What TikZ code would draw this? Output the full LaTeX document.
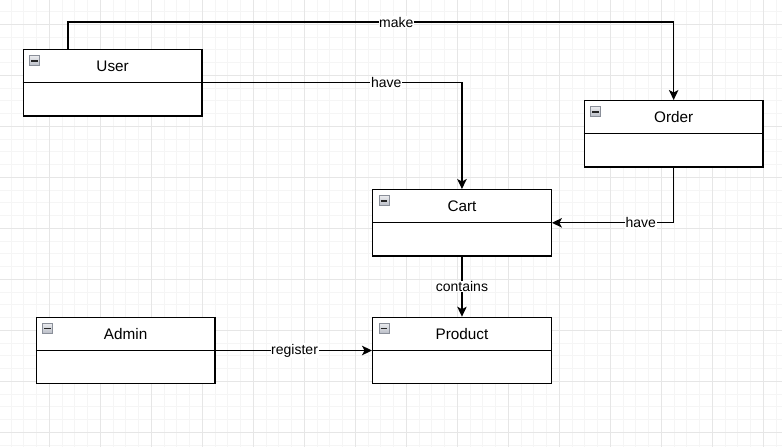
\documentclass[tikz,border=0pt]{standalone}
\usepackage{fontspec}
\setmainfont{Liberation Sans}
\usetikzlibrary{positioning, arrows.meta, calc}
\definecolor{minorgrid}{HTML}{F5F5F5}
\definecolor{majorgrid}{HTML}{E6E6E6}
\definecolor{iconfill}{HTML}{B9BDC6}
\definecolor{iconline}{HTML}{8A8F99}
\tikzset{class node/.style={rectangle, draw, line width=1.3pt, fill=white, anchor=north west,
    minimum width=178.6pt, minimum height=66.3pt, inner sep=0pt},
  class title/.style={font=\fontsize{15.3}{18}\selectfont, inner sep=0pt},
  icon node/.style={rectangle, draw=iconline, line width=0.9pt, top color=white!70!iconfill, bottom color=iconfill,
    minimum size=10pt, inner sep=0pt},
  edge label/.style={fill=white, font=\fontsize{14}{16}\selectfont, inner sep=0.6pt},
  assoc/.style={line width=1.3pt, -{Stealth[length=10pt, width=9.5pt, inset=2.5pt]}},}

\begin{document}
\begin{tikzpicture}[x=1pt, y=-1pt]
			% Canvas and grid
			\useasboundingbox (0,0) rectangle (782,447);
			\fill[white] (0,0) rectangle (782,447);
			\foreach \i in {0,...,62} {
				\draw[minorgrid, line width=0.8pt] ({-1.7+12.75*\i},0) -- ++(0,447);}
			\foreach \j in {0,...,37} {
				\draw[minorgrid, line width=0.8pt] (0,{-26.7+12.75*\j}) -- ++(782,0);}
			\foreach \i in {0,...,16} {
				\draw[majorgrid, line width=0.8pt] ({-1.7+51*\i},0) -- ++(0,447);}
			\foreach \j in {0,...,9} {
				\draw[majorgrid, line width=0.8pt] (0,{-26.7+51*\j}) -- ++(782,0);}
			% Classes
			\node[class node] (user) at (22.7,49) {};
			\node[class node] (order) at (583.7,100) {};
			\node[class node] (cart) at (372,189) {};
			\node[class node] (admin) at (35.7,316.7) {};
			\node[class node] (product) at (372,316.7) {};
			\foreach \c/\t in {user/User, order/Order, cart/Cart, admin/Admin, product/Product} {
				\draw[line width=1.3pt] (\c.west) -- (\c.east);
				\node[class title] (\c title) at ([yshift=16.6pt]\c.center) {\t};
				\node[icon node] (\c icon) at ([xshift=12pt, yshift=-11.7pt]\c.north west) {};
				\draw[line width=1.6pt, black!85] ([xshift=-3.3pt]\c icon.center) -- ([xshift=3.3pt]\c icon.center);
			}
			\coordinate[xshift=45.3pt] (make out) at (user.north west);
			% Associations
			\draw[assoc] (make out) -- ++(0,-27) -| (order.north) node[edge label, pos=0.271] {make};
			\draw[assoc] (user.east) -| (cart.north) node[edge label, pos=0.354] {have};
			\draw[assoc] (order.south) |- (cart.east) node[edge label, pos=0.635] {have};
			\draw[assoc] (cart.south) -- (product.north) node[edge label, midway] {contains};
			\draw[assoc] (admin.east) -- (product.west) node[edge label, pos=0.505] {register};
		\end{tikzpicture}
\end{document}
